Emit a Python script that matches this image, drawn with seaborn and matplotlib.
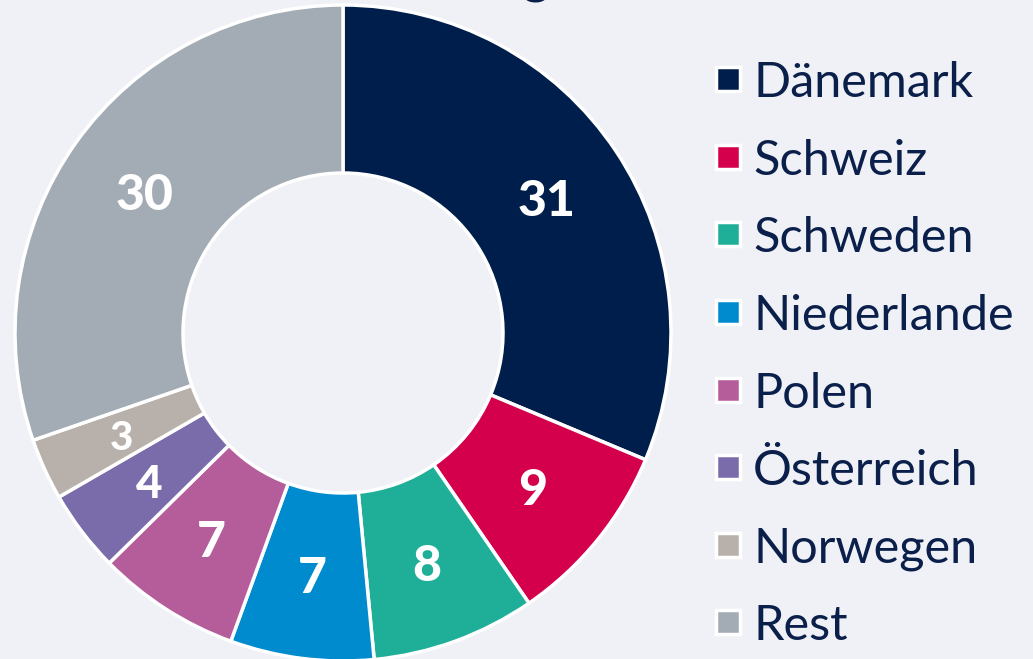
import matplotlib
matplotlib.use("Agg")
import matplotlib.pyplot as plt
from matplotlib.patches import Rectangle
import numpy as np
import seaborn as sns

countries = ["Dänemark", "Schweiz", "Schweden", "Niederlande", "Polen", "Österreich", "Norwegen", "Rest"]
values = [31, 9, 8, 7, 7, 4, 3, 30]
colors = ["#001E4B", "#D4004B", "#1FAF99", "#008BCF", "#B55C9A", "#7A6CAA", "#B8B0AA", "#A3ACB5"]
label_sizes = [36, 36, 36, 36, 36, 33, 29, 36]

BG = "#EFF1F6"
TXT = "#0B1F4B"

sns.set_theme(style="white")
plt.rcParams["font.family"] = ["Lato", "DejaVu Sans"]

W, H = 1033, 659
fig = plt.figure(figsize=(W / 100, H / 100), dpi=100)
fig.patch.set_facecolor(BG)

cx, cy, R = 343, 333, 328
ax = fig.add_axes([(cx - R) / W, (H - cy - R) / H, 2 * R / W, 2 * R / H])
ax.set_facecolor(BG)
ax.axis("off")

pal = sns.color_palette(colors)
inner = 160 / R
wedges, _ = ax.pie(values, colors=pal, startangle=90, counterclock=False, radius=1,
                   wedgeprops=dict(width=1 - inner, edgecolor="white", linewidth=2.5))
ax.set_xlim(-1, 1)
ax.set_ylim(-1, 1)
ax.set_aspect("equal")

rmid = (1 + inner) / 2
for w, v, s in zip(wedges, values, label_sizes):
    ang = np.deg2rad((w.theta1 + w.theta2) / 2)
    ax.text(rmid * np.cos(ang), rmid * np.sin(ang) - 0.012, str(v), ha="center", va="center",
            color="white", fontsize=s, fontweight="black")

# partially visible title (cut off at top in the reference)
fig.text(536 / W, 1 + 6 / H, "g", ha="center", va="baseline", color=TXT,
         fontsize=36, fontweight="black")

# legend
ys = [79, 157, 234, 312, 390, 467, 545, 622]
for name, col, y in zip(countries, colors, ys):
    fig.patches.append(Rectangle((716 / W, (H - y - 12) / H), 24 / W, 24 / H,
                                 transform=fig.transFigure, facecolor=col,
                                 edgecolor="white", linewidth=2.5, figure=fig))
    fig.text(753 / W, (H - y) / H, name, ha="left", va="center_baseline", color=TXT,
             fontsize=35)

fig.savefig("out.png", dpi=100, facecolor=BG)
